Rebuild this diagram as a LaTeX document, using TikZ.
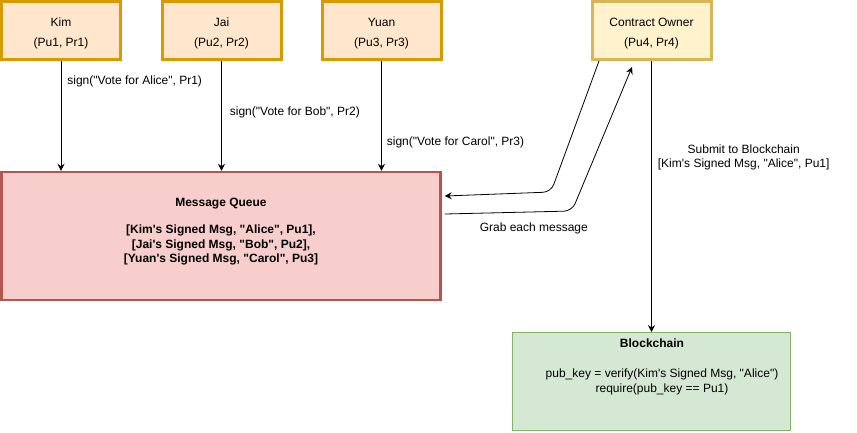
\documentclass[tikz,border=0pt]{standalone}
\usepackage{fontspec}
\setmainfont{Liberation Sans}[Ligatures=TeXOff]
\usepackage{tikz}
\usetikzlibrary{arrows.meta, positioning}
\definecolor{voterfill}{HTML}{FFE6CC}
\definecolor{voterline}{HTML}{D79B00}
\definecolor{ownerfill}{HTML}{FFF2CC}
\definecolor{ownerline}{HTML}{D6B656}
\definecolor{queuefill}{HTML}{F8CECC}
\definecolor{queueline}{HTML}{B85450}
\definecolor{chainfill}{HTML}{D5E8D4}
\definecolor{chainline}{HTML}{82B366}

\begin{document}
\begin{tikzpicture}[x=1pt, y=-1pt, font=\fontsize{12}{14.4}\selectfont,
		voter/.style={draw=voterline, fill=voterfill, line width=3pt, minimum width=119pt, minimum height=58pt, align=center, font=\fontsize{12}{20}\selectfont},
		arr/.style={-{Stealth[length=7pt, width=7pt, inset=2.5pt]}, line width=0.8pt},
		lbl/.style={inner sep=0pt, align=center}]
				\useasboundingbox (0,0) rectangle (857,432);
				\node[voter] (kim) at (61,30.5) {\strut Kim\\(Pu1, Pr1)};
				\node[voter] (jai) at (221.5,30.5) {\strut Jai\\(Pu2, Pr2)};
				\node[voter] (yuan) at (381.5,30.5) {\strut Yuan\\(Pu3, Pr3)};
				\node[voter, draw=ownerline, fill=ownerfill] (owner) at (651.5,30.5) {\strut Contract Owner\\(Pu4, Pr4)};
				\node[draw=queueline, fill=queuefill, line width=2.5pt, minimum width=439pt, minimum height=128pt] (mq) at (221,236) {};
				\node[lbl, font=\fontsize{12}{14.4}\selectfont\bfseries] (mqtext) at (221,231.5) {Message Queue\\[13pt]{[Kim's Signed Msg, "Alice", Pu1],}\\{[Jai's Signed Msg, "Bob", Pu2],}\\{[Yuan's Signed Msg, "Carol", Pu3]}};
				\node[draw=chainline, fill=chainfill, line width=1pt, minimum width=278pt, minimum height=98pt] (bc) at (651.5,381.5) {};
				\node[lbl, font=\fontsize{12}{14.4}\selectfont\bfseries] (bctitle) at (652,343) {Blockchain};
				\node[lbl] (bccode) at (662,382) {pub\_key = verify(Kim's Signed Msg, "Alice")\\require(pub\_key == Pu1)};
				\draw[arr] (kim.south) -- (kim.south |- mq.north) node[lbl, pos=0.19, right=6pt] {sign("Vote for Alice", Pr1)};
				\draw[arr] (jai.south) -- (jai.south |- mq.north) node[lbl, pos=0.465, right=8pt] {sign("Vote for Bob", Pr2)};
				\draw[arr] (yuan.south) -- (yuan.south |- mq.north) node[lbl, pos=0.745, right=5pt] {sign("Vote for Carol", Pr3)};
				\draw[arr, rounded corners=8pt] ([xshift=8.5pt]owner.south west) -- (551,192) -- ([xshift=3pt, yshift=40pt]mq.east);
				\draw[arr, rounded corners=8pt] ([xshift=3pt, yshift=22pt]mq.east) -- node[lbl, pos=0.7, below=10pt] {Grab each message} (572,211) -- ([xshift=-19.5pt, yshift=-6pt]owner.south);
				\draw[arr] (owner.south) -- (bc.north) node[lbl, pos=0.356, right=6pt] {Submit to Blockchain\\{[Kim's Signed Msg, "Alice", Pu1]}};
			\end{tikzpicture}
\end{document}
